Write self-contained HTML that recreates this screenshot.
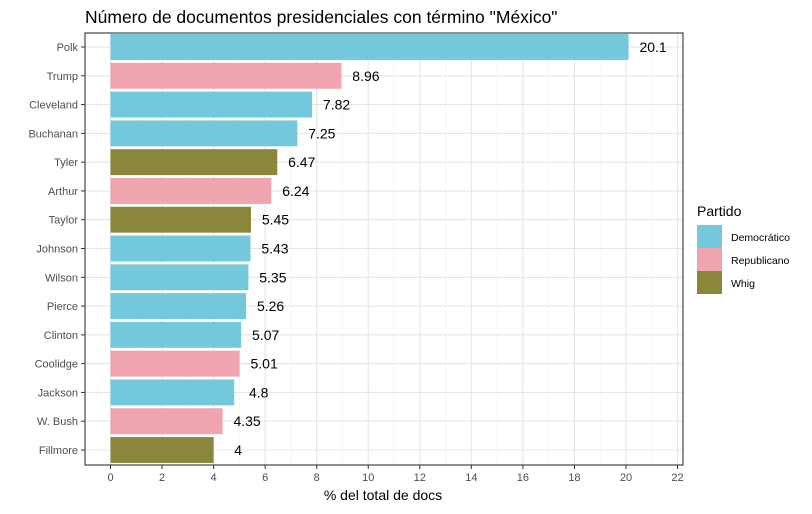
<!DOCTYPE html>
<html><head><meta charset="utf-8"><style>body{margin:0;background:#fff}svg{font-family:"Liberation Sans",sans-serif}</style></head>
<body>
<svg id="c" width="812" height="509" xmlns="http://www.w3.org/2000/svg">
<text x="85" y="23" font-size="17.5" fill="#000">Número de documentos presidenciales con término "México"</text>
<g id="plot"></g>
<text x="383" y="500" font-size="14" text-anchor="middle" fill="#000">% del total de docs</text>
<g>
<text x="697" y="216" font-size="14" fill="#000">Partido</text>
<rect x="697" y="225" width="25" height="23" fill="#73c9db"/>
<text x="731" y="241" font-size="10.5" fill="#000">Democrático</text>
<rect x="697" y="248" width="25" height="23" fill="#f0a4b0"/>
<text x="731" y="264" font-size="10.5" fill="#000">Republicano</text>
<rect x="697" y="271" width="25" height="23" fill="#8a873a"/>
<text x="731" y="287" font-size="10.5" fill="#000">Whig</text>
</g>
</svg>
<script>
const presidents=["Polk","Trump","Cleveland","Buchanan","Tyler","Arthur","Taylor","Johnson","Wilson","Pierce","Clinton","Coolidge","Jackson","W. Bush","Fillmore"];
const values=[20.1,8.96,7.82,7.25,6.47,6.24,5.45,5.43,5.35,5.26,5.07,5.01,4.8,4.35,4];
const labels=["20.1","8.96","7.82","7.25","6.47","6.24","5.45","5.43","5.35","5.26","5.07","5.01","4.8","4.35","4"];
const parties=["D","R","D","D","W","R","W","D","D","D","D","R","D","R","W"];
const xTicks=[0,2,4,6,8,10,12,14,16,18,20,22];
const colors={D:"#73c9db",R:"#f0a4b0",W:"#8a873a"};
const L=85,R=683,T=33,B=465,x0=110.5,unit=(626-110.5)/20;
const X=v=>x0+v*unit;
const step=(450-47)/14;
const Y=i=>47+i*step;
const g=document.getElementById('plot');
const NS="http://www.w3.org/2000/svg";
function mk(t,a,p){const e=document.createElementNS(NS,t);for(const k in a)e.setAttribute(k,a[k]);(p||g).appendChild(e);return e;}
let bg=mk('rect',{x:L,y:T,width:R-L,height:B-T,fill:'#fff'});


for(let v=-1;v<=22.5;v+=1){const px=X(v);if(px<L||px>R)continue;const major=v%2===0;
 let l=mk('line',{x1:px,x2:px,y1:T,y2:B,stroke:major?'#e5e5e5':'#f2f2f2','stroke-width':major?1.1:0.6});
 
 }
presidents.forEach((p,i)=>{let l=mk('line',{x1:L,x2:R,y1:Y(i),y2:Y(i),stroke:'#e5e5e5','stroke-width':1.1});
 
 });
const bh=step*0.9;
presidents.forEach((p,i)=>{
 let r=mk('rect',{x:X(0),y:Y(i)-bh/2,width:X(values[i])-X(0),height:bh,fill:colors[parties[i]]});
 
 
 let t=mk('text',{x:X(values[i]+0.95),y:Y(i)+5,'font-size':14,'text-anchor':'middle',fill:'#000'});t.textContent=labels[i];
 
 
 let tl=mk('text',{x:L-7,y:Y(i)+4,'font-size':11,'text-anchor':'end',fill:'#4d4d4d'});tl.textContent=p;
 
 
 let tk=mk('line',{x1:L-4,x2:L,y1:Y(i),y2:Y(i),stroke:'#333','stroke-width':1});
 
 
});
xTicks.forEach(v=>{
 let tk=mk('line',{x1:X(v),x2:X(v),y1:B,y2:B+4,stroke:'#333','stroke-width':1});
 
 
 let t=mk('text',{x:X(v),y:B+16,'font-size':11,'text-anchor':'middle',fill:'#4d4d4d'});t.textContent=v;
 
 
});
let bd=mk('rect',{x:L,y:T,width:R-L,height:B-T,fill:'none',stroke:'#333','stroke-width':1.1});


</script>
</body></html>
